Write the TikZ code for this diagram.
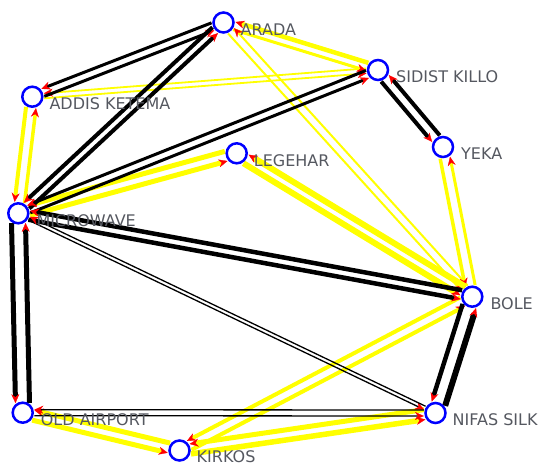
\documentclass[tikz,border=0pt]{standalone}
\usepackage{fontspec}
\setmainfont{DejaVu Sans}
\usetikzlibrary{arrows.meta,calc}

\definecolor{nodeblue}{RGB}{0,0,255}
\definecolor{labelgray}{RGB}{85,88,96}
\definecolor{edgeyellow}{RGB}{255,255,0}
\definecolor{tipred}{RGB}{255,0,0}

\pgfdeclarelayer{edges}
\pgfsetlayers{edges,main}

\tikzset{
  station/.style={circle, draw=nodeblue, line width=2.5pt, fill=white,
    minimum size=20pt, inner sep=0pt},
  stationlabel/.style={anchor=west, inner sep=0pt, text=labelgray,
    font=\fontsize{16}{18}\selectfont},
  edgeline/.style={-{Stealth[color=tipred,length=9pt,width=8pt,inset=3pt,line width=0.3pt]}},
}

% one directed edge, drawn parallel to the centre line and offset
% to the right of its direction: from, to, colour, width, offset
\newcommand\dedge[5]{%
  \pgfmathsetmacro\trimlen{sqrt(12*12-#5*#5)}%
  \draw[edgeline,draw=#3,line width=#4pt,
        shorten <=\trimlen pt, shorten >=\trimlen pt]
    ($(#1.center)!#5pt!-90:(#2.center)$) -- ($(#2.center)!#5pt!90:(#1.center)$);}

\begin{document}
\begin{tikzpicture}[x=1pt,y=-1pt]
\useasboundingbox (0,0) rectangle (540,465);

% stations
\node[station] (AR) at (223.5,22.5) {};
\node[station] (SK) at (378,70) {};
\node[station] (AK) at (32.3,96.7) {};
\node[station] (YE) at (443,147) {};
\node[station] (LE) at (236.7,153.3) {};
\node[station] (MW) at (18.3,213.3) {};
\node[station] (BO) at (472.3,296.7) {};
\node[station] (OA) at (22.7,412.7) {};
\node[station] (NS) at (435.5,413) {};
\node[station] (KI) at (179.5,450.5) {};

% station names
\node[stationlabel] (lAR) at ($(AR)+(17,7)$) {ARADA};
\node[stationlabel] (lSK) at ($(SK)+(18,7)$) {SIDIST KILLO};
\node[stationlabel] (lAK) at ($(AK)+(17,7)$) {ADDIS KETEMA};
\node[stationlabel] (lYE) at ($(YE)+(18,7)$) {YEKA};
\node[stationlabel] (lLE) at ($(LE)+(17,7)$) {LEGEHAR};
\node[stationlabel] (lMW) at ($(MW)+(18,7)$) {MICROWAVE};
\node[stationlabel] (lBO) at ($(BO)+(18,7)$) {BOLE};
\node[stationlabel] (lOA) at ($(OA)+(18,7)$) {OLD AIRPORT};
\node[stationlabel] (lNS) at ($(NS)+(17,7)$) {NIFAS SILK};
\node[stationlabel] (lKI) at ($(KI)+(17,6)$) {KIRKOS};

\begin{pgfonlayer}{edges}
% yellow links
\dedge{AK}{SK}{edgeyellow}{1.8}{2.5}
\dedge{SK}{AK}{edgeyellow}{1.8}{2.5}
\dedge{AR}{SK}{edgeyellow}{3}{4}
\dedge{SK}{AR}{edgeyellow}{4.5}{4}
\dedge{AR}{BO}{edgeyellow}{2}{4}
\dedge{BO}{AR}{edgeyellow}{2}{4}
\dedge{YE}{BO}{edgeyellow}{3.5}{5}
\dedge{BO}{YE}{edgeyellow}{3}{5}
\dedge{AK}{MW}{edgeyellow}{4}{5}
\dedge{MW}{AK}{edgeyellow}{3.5}{5}
\dedge{MW}{LE}{edgeyellow}{5}{5}
\dedge{LE}{MW}{edgeyellow}{5}{5}
\dedge{LE}{BO}{edgeyellow}{6}{5}
\dedge{BO}{LE}{edgeyellow}{6}{5}
\dedge{OA}{KI}{edgeyellow}{5}{5}
\dedge{KI}{OA}{edgeyellow}{5}{5}
\dedge{KI}{BO}{edgeyellow}{4}{5}
\dedge{BO}{KI}{edgeyellow}{4}{5}
\dedge{KI}{NS}{edgeyellow}{5.5}{5}
\dedge{NS}{KI}{edgeyellow}{5}{5}
% black links
\dedge{AR}{AK}{black}{3}{4}
\dedge{AK}{AR}{black}{3}{4}
\dedge{AR}{MW}{black}{4}{4}
\dedge{MW}{AR}{black}{4}{4}
\dedge{SK}{YE}{black}{4}{5}
\dedge{YE}{SK}{black}{4}{5}
\dedge{MW}{SK}{black}{3}{4}
\dedge{SK}{MW}{black}{3}{4}
\dedge{MW}{BO}{black}{4.5}{4.5}
\dedge{BO}{MW}{black}{4.5}{4.5}
\dedge{MW}{NS}{black}{1.3}{1.8}
\dedge{NS}{MW}{black}{1.3}{1.8}
\dedge{MW}{OA}{black}{5}{7}
\dedge{OA}{MW}{black}{5}{7}
\dedge{OA}{NS}{black}{1.3}{3}
\dedge{NS}{OA}{black}{1.3}{3}
\dedge{BO}{NS}{black}{4.5}{7}
\dedge{NS}{BO}{black}{6}{7}
\end{pgfonlayer}
\end{tikzpicture}
\end{document}
